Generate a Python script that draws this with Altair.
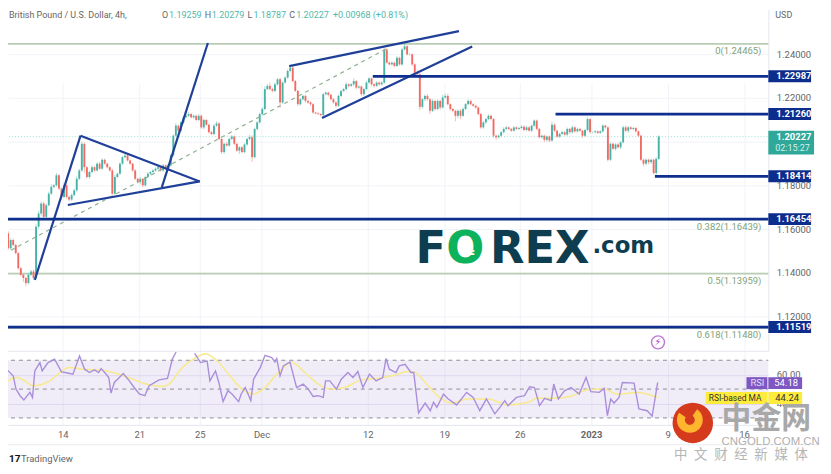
import altair as alt
import pandas as pd

first_open = 1.1490
closes = [
 1.1444,1.1581,1.1512,1.1550,1.1527,1.1490,1.1421,1.1391,1.1376,1.1353,
 1.1391,1.1406,1.1376,1.1611,1.1671,1.1717,1.1656,1.1709,1.1762,1.1793,
 1.1800,1.1846,1.1785,1.1747,1.1800,1.1747,1.1735,1.1755,1.1777,1.1830,
 1.1868,1.1990,1.1883,1.1838,1.1861,1.1883,1.1868,1.1899,1.1876,1.1917,
 1.1899,1.1883,1.1868,1.1762,1.1838,1.1853,1.1899,1.1929,1.1937,1.1914,
 1.1899,1.1868,1.1830,1.1815,1.1830,1.1800,1.1838,1.1853,1.1861,1.1868,
 1.1876,1.1883,1.1868,1.1891,1.1876,1.1891,1.1937,1.2027,1.2073,1.2050,
 1.2088,1.2111,1.2118,1.2126,1.2111,1.2118,1.2099,1.2118,1.2065,1.2099,
 1.2077,1.2043,1.2035,1.2073,1.2083,1.2012,1.1952,1.1990,1.1982,1.2012,
 1.2023,1.1990,1.1959,1.1974,1.1952,1.1987,1.2012,1.2020,1.1929,1.2058,
 1.2088,1.2126,1.2149,1.2240,1.2255,1.2240,1.2232,1.2262,1.2285,1.2179,
 1.2270,1.2293,1.2323,1.2338,1.2277,1.2232,1.2171,1.2194,1.2209,1.2186,
 1.2179,1.2171,1.2133,1.2129,1.2126,1.2121,1.2217,1.2224,1.2214,1.2194,
 1.2179,1.2164,1.2209,1.2232,1.2240,1.2262,1.2255,1.2262,1.2277,1.2247,
 1.2252,1.2217,1.2240,1.2270,1.2289,1.2262,1.2255,1.2270,1.2262,1.2270,
 1.2421,1.2361,1.2353,1.2361,1.2346,1.2383,1.2353,1.2421,1.2436,1.2399,
 1.2399,1.2353,1.2315,1.2308,1.2159,1.2194,1.2209,1.2194,1.2141,1.2186,
 1.2149,1.2186,1.2156,1.2202,1.2209,1.2171,1.2149,1.2141,1.2118,1.2141,
 1.2118,1.2149,1.2171,1.2186,1.2171,1.2164,1.2156,1.2126,1.2065,1.2088,
 1.2103,1.2118,1.2103,1.2027,1.2020,1.2027,1.2043,1.2058,1.2065,1.2058,
 1.2050,1.2065,1.2058,1.2062,1.2068,1.2053,1.2065,1.2050,1.2073,1.2096,
 1.2058,1.2020,1.2027,1.2008,1.2023,1.2005,1.2077,1.2050,1.2023,1.2035,
 1.2043,1.2032,1.2058,1.2043,1.2065,1.2047,1.2058,1.2050,1.2027,1.2053,
 1.2103,1.2043,1.2043,1.2047,1.2040,1.2047,1.2073,1.2065,1.1917,1.1990,
 1.1967,1.1987,1.1974,1.1997,1.2065,1.2050,1.2065,1.2058,1.2062,1.2047,
 1.2027,1.1917,1.1899,1.1917,1.1906,1.1917,1.1856,1.1921,1.2023,
]
upper_wick_pips = [
 10,12,10,8,8,6,6,5,5,5, 8,8,8,10,12,10,8,8,8,12, 6,10,6,5,10,5,5,8,8,10,
 8,10,6,4,6,8,6,6,8,6, 5,4,4,8,10,6,6,6,8,5, 4,4,6,4,8,4,6,8,5,6,
 6,6,5,6,5,6,6,6,12,6, 5,6,10,10,6,6,5,8,6,6, 5,5,6,6,10,8,5,6,8,6,
 8,6,5,5,5,6,6,10,8,6, 6,6,8,12,8,15,6,8,6,6, 5,6,8,10,6,5,5,5,6,6,
 5,5,5,4,4,4,6,6,5,5, 5,5,6,6,5,10,5,6,12,5, 6,5,6,8,6,5,5,6,5,6,
 6,6,5,5,5,8,6,8,12,5, 6,5,5,12,5,5,6,8,5,8, 5,8,6,12,10,10,4,5,5,6,
 8,8,6,8,6,5,5,5,5,5, 5,8,5,5,5,5,5,8,6,5, 5,6,5,5,8,6,8,6,5,6,
 5,4,4,5,5,5,15,8,4,6, 6,5,6,5,8,5,6,6,4,6, 8,4,4,5,4,5,6,5,5,5,
 6,6,6,5,8,8,6,5,6,5, 5,5,5,6,5,5,5,8,6,
]
lower_wick_pips = [
 15,8,8,6,6,6,8,6,18,15, 5,6,8,6,8,10,8,6,6,6, 6,6,6,15,6,8,8,6,6,6,
 6,6,25,6,8,6,6,5,6,5, 5,6,6,6,5,6,5,6,5,5, 5,6,5,6,10,8,6,6,6,5,
 5,6,5,6,5,6,5,6,6,5, 6,6,5,6,5,6,6,6,6,8, 5,5,6,6,6,6,8,8,5,6,
 6,6,6,15,6,6,6,6,22,6, 6,6,6,6,5,6,6,6,6,25, 6,5,6,6,6,5,8,6,6,8,
 5,8,6,5,5,6,6,6,8,6, 6,8,6,5,6,6,8,5,8,8, 6,8,8,6,5,6,8,5,6,6,
 6,5,5,5,6,5,6,6,5,5, 5,6,5,6,15,8,8,8,15,6, 8,6,10,6,5,6,8,8,25,10,
 15,6,5,5,5,5,6,6,6,6, 8,5,6,10,12,6,5,6,6,6, 6,5,6,5,5,6,6,5,6,6,
 6,6,6,10,8,8,6,6,6,6, 5,6,6,6,6,6,5,6,10,5, 6,6,5,5,5,5,6,6,8,6,
 6,8,5,8,6,8,10,5,6,6, 6,6,12,8,10,8,5,8,6,
]

rsi_bar = [0,1.4,4,5.1,6.7,8.2,10.6,11.6,12.5,14.5,15.4,17.7,20.3,23,24.5,27.5,30.1,32.1,34,36,37.6,38.6,40.6,41.6,42.5,43.8,47.3,49.7,51.6,53.6,55.8,57.5,61.4,64.7,66.6,68.1,
 72,
 75.4,77.7,80.3,81.4,83.6,84.9,86.6,88.5,90.1,92.7,93.7,95.3,97.5,98.6,101.2,103.1,105.7,107,107.7,109,110.3,112.9,115.5,118.1,120.1,122,124,126,126.9,128.6,131.2,133.1,135.7,137.7,139.6,141.6,144.2,146.8,149.4,150.7,152,154.6,155.9,158.2,160.5,
 161.6,163.5,166.1,168.1,169.4,170.7,173.3,175.2,178.5,182.4,185,187.6,190.2,193.5,195.5,197.4,198.7,202,205.2,207.2,209.1,211.1,213.1,215.7,216.7,218.5,220.9,223.5,226.7,229.4,231.3,234.6,236.5,237.8,239.1,240.4,242.4,243.7,248.3,250.2,253.5,255.4,257.6]
rsi_val = [54.6,63.8,59.2,50,45.4,42.4,47.7,44.2,62.6,68.4,62.6,68.4,70.7,61.9,61.5,60.3,73,63.8,61.5,63.3,61.5,64.2,60.3,58,47.2,54.6,60.8,55.7,51.1,46.6,45.4,52.3,56.4,57.4,70.7,75.7,
 None,
 74.8,68.4,69.5,55.7,62.6,54.6,41.3,48.9,46.6,41.3,46.6,51.1,42,56.9,64.9,73.4,71.8,68.8,71.2,59.2,66.1,68.8,51.1,53.4,50,44.9,45.4,44.2,55.7,55.7,50,56.9,61.5,58,62.2,51.1,60.3,55.7,58,71.2,63.8,61.5,66.1,67.2,61.5,
 61.5,33.4,40.3,35,40.8,37.3,46.5,43.1,39,47.7,44.2,35,43.1,32.8,37.3,42,38.5,44.2,45.4,51.6,51.1,38.5,43.6,42,53.5,43.1,48.8,51.1,46.5,58,48.2,47.7,50.5,31.6,43.1,40.3,44.2,54.6,54.1,36.2,35,31.2,54.6]
ma_bar = [0,5.4,8.6,11.9,18.4,22.3,26.2,31.4,40.6,45.8,51,56.2,62.7,65.3,70.5,75.8,79.7,83.6,88.8,94,98.6,103.1,108.3,113.6,118.8,124,129.2,134.4,141,147.5,154,159.2,162.2,166.1,172.6,176.5,183,190.9,198.7,206.5,210.4,217,223.5,230,236.5,241.7,249.6,257.4]
ma_val = [53.5,58,55.7,52.3,55.7,61.5,64.9,63.8,62.6,60.3,56.9,53.5,51.8,53.5,64.9,71.8,74.6,70.7,60.3,50,46.6,51.1,61.5,68.4,61.5,53.5,50,51.1,56.4,57.4,59.6,62.2,61.5,54.6,43.1,40.3,43.1,43.1,39,40.8,43.8,43.6,45,49.5,50,46.5,47.7,44.2]

tick_bars = [23.5,53.6,77.4,101.7,143.5,173.6,203.3,231.4,261.5,291.6]
tick_labels = ["14","21","25","Dec","12","19","26","2023","9","16"]
price_ticks = [1.12,1.14,1.16,1.18,1.20,1.22,1.24]
level_prices = [1.22987,1.21260,1.18414,1.16454,1.11519]
level_starts = [145.5,217.4,256.5,0,0]
fib_prices = [1.24465,1.16439,1.13959,1.11480]
fib_labels = ["0(1.24465)","0.382(1.16439)","0.5(1.13959)","0.618(1.11480)"]
seg_b1 = [12.5,30.5,77.4,62.5,112.6,125.5]
seg_p1 = [1.1368,1.2027,1.1818,1.1792,1.2345,1.2108]
seg_b2 = [30.5,77.4,25.5,80.6,179.4,184.6]
seg_p2 = [1.2027,1.1818,1.1710,1.2451,1.2505,1.2435]
last_price = 1.20227
dashed_b = [0.4,150.6]
dashed_p = [1.1486,1.2423]

X_DOM = [1.955, 301.13]
xs = alt.Scale(domain=X_DOM, nice=False, zero=False)
ps = alt.Scale(domain=[1.104091,1.260455], range=[344,0], nice=False, zero=False)
rs = alt.Scale(domain=[30,70], range=[411,353], nice=False, zero=False)
GRID = "#f1f3f8"
FONT = "Roboto"

opens = [first_open] + closes[:-1]
candles = pd.DataFrame({"bar":range(len(closes)),"o":opens,"c":closes})
candles["hi"] = [max(o,c)+u/10000 for o,c,u in zip(opens,closes,upper_wick_pips)]
candles["lo"] = [min(o,c)-l/10000 for o,c,l in zip(opens,closes,lower_wick_pips)]
candles["dir"] = ["up" if c>=o else "down" for o,c in zip(opens,closes)]
dircol = alt.Scale(domain=["up","down"],range=["#3fb0a0","#f0655f"])

label_expr = " : ".join(f"datum.value=={b} ? '{l}'" for b,l in zip(tick_bars,tick_labels)) + " : ''"
x_axis = alt.Axis(values=tick_bars,labelExpr=label_expr,grid=True,gridColor=GRID,domain=True,domainColor="#e4e6ee",
                  ticks=False,labelColor="#666666",labelFontSize=9.5,labelPadding=5,labelFont=FONT,title=None,
                  labelFontWeight={"condition":{"test":"datum.value==231.4","value":"bold"},"value":"normal"})
y_axis = alt.Axis(values=price_ticks,format=".5f",orient="right",grid=True,gridColor=GRID,domain=True,domainColor="#e4e6ee",
                  ticks=False,labelColor="#666666",labelFontSize=9.5,labelPadding=8,labelFont=FONT,title=None,
                  labelExpr="datum.value==1.2 ? '' : datum.label")
r_axis = alt.Axis(values=[40,60],format=".2f",orient="right",grid=True,gridColor="#ebe7f5",domain=False,
                  ticks=False,labelColor="#666666",labelFontSize=9.5,labelPadding=8,labelFont=FONT,title=None)
X = lambda f: alt.X(f,scale=xs,axis=x_axis)
Y = lambda f: alt.Y(f,scale=ps,axis=y_axis)
RY = lambda f: alt.Y(f,scale=rs,axis=r_axis)

def txt(s,px,py,size=9.5,color="#666666",align="left",weight="normal",font=FONT,base="middle"):
    return alt.Chart(pd.DataFrame({"s":[s]})).mark_text(align=align,baseline=base,fontSize=size,color=color,
        fontWeight=weight,font=font).encode(text="s:N",x=alt.value(px-8),y=alt.value(py-8))

# ------ price pane
fib = alt.Chart(pd.DataFrame({"p":fib_prices,"a":[0]*4,"b":[X_DOM[1]]*4})).mark_rule(color="#b8cdb4",strokeWidth=1.8).encode(
    x=X("a:Q"),x2="b:Q",y=Y("p:Q"))
lastline = alt.Chart(pd.DataFrame({"p":[last_price],"a":[0],"b":[X_DOM[1]]})).mark_rule(color="#9adfd6",strokeWidth=1,strokeDash=[1,2]).encode(
    x=X("a:Q"),x2="b:Q",y=Y("p:Q"))
wicks = alt.Chart(candles).mark_rule(strokeWidth=1,opacity=0.45).encode(
    x=X("bar:Q"),y=Y("lo:Q"),y2="hi:Q",color=alt.Color("dir:N",scale=dircol,legend=None))
bodies = alt.Chart(candles).mark_rule(strokeWidth=1.9,opacity=0.95).encode(
    x=X("bar:Q"),y=Y("o:Q"),y2="c:Q",color=alt.Color("dir:N",scale=dircol,legend=None))
dash = alt.Chart(pd.DataFrame({"a":[dashed_b[0]],"b":[dashed_b[1]],"p":[dashed_p[0]],"q":[dashed_p[1]]})).mark_rule(
    color="#8fb08f",strokeWidth=1.2,strokeDash=[4,4]).encode(x=X("a:Q"),x2="b:Q",y=Y("p:Q"),y2="q:Q")
segs = alt.Chart(pd.DataFrame({"a":seg_b1,"b":seg_b2,"p":seg_p1,"q":seg_p2})).mark_rule(color="#1f3f98",strokeWidth=2.2).encode(
    x=X("a:Q"),x2="b:Q",y=Y("p:Q"),y2="q:Q")
levels = alt.Chart(pd.DataFrame({"p":level_prices,"a":level_starts,"b":[X_DOM[1]]*5})).mark_rule(color="#0f2f8f",strokeWidth=2.8).encode(
    x=X("a:Q"),x2="b:Q",y=Y("p:Q"))
tags_df = pd.DataFrame({"p":level_prices,"t":[f"{v:.5f}" for v in level_prices]})
tags = alt.Chart(tags_df).mark_rect(color="#0d2d8c",height=12).encode(x=alt.value(765),x2=alt.value(808),y=Y("p:Q"))
tagt = alt.Chart(tags_df).mark_text(color="white",fontSize=9.5,fontWeight="bold",font=FONT,align="left").encode(
    x=alt.value(773),y=Y("p:Q"),text="t:N")
lasttag = alt.Chart(pd.DataFrame({"p":[last_price]})).mark_rect(color="#2fa899",height=24,yOffset=6).encode(
    x=alt.value(765),x2=alt.value(811),y=Y("p:Q"))
fibt = alt.Chart(pd.DataFrame({"p":fib_prices,"t":fib_labels})).mark_text(color="#7da27c",fontSize=9.5,font=FONT,align="right",dy=7.5).encode(
    x=alt.value(758),y=Y("p:Q"),text="t:N")
price_layer = alt.layer(fib,lastline,wicks,bodies,dash,segs,levels,lasttag,tags,tagt,fibt)

# ------ RSI pane
rsi_df = pd.DataFrame({"bar":rsi_bar,"v":rsi_val})
ma_df = pd.DataFrame({"bar":ma_bar,"v":ma_val})
band = alt.Chart(pd.DataFrame({"a":[0],"b":[X_DOM[1]],"lo":[30],"hi":[70]})).mark_rect(color="#7e57c2",opacity=0.11).encode(
    x=X("a:Q"),x2="b:Q",y=RY("lo:Q"),y2="hi:Q")
dashes = alt.Chart(pd.DataFrame({"v":[30,50,70],"a":[0]*3,"b":[X_DOM[1]]*3})).mark_rule(color="#8d8d94",strokeWidth=1,strokeDash=[4,4]).encode(
    x=X("a:Q"),x2="b:Q",y=RY("v:Q"))
ma_line = alt.Chart(ma_df).mark_line(color="#f8e98a",strokeWidth=1.5,interpolate="monotone").encode(x=X("bar:Q"),y=RY("v:Q"))
rsi_line = alt.Chart(rsi_df).mark_line(color="#a98fdb",strokeWidth=1.4).encode(x=X("bar:Q"),y=RY("v:Q"))
rsi_layer = alt.layer(band,dashes,ma_line,rsi_line)

def box(x1,x2,y1,y2,color):
    return alt.Chart(pd.DataFrame({"a":[0]})).mark_rect(color=color).encode(
        x=alt.value(x1-8),x2=alt.value(x2-8),y=alt.value(y1-8),y2=alt.value(y2-8))
def hline(x1,x2,y,color):
    return alt.Chart(pd.DataFrame({"a":[0]})).mark_rule(color=color,strokeWidth=1).encode(
        x=alt.value(x1-8),x2=alt.value(x2-8),y=alt.value(y-8))

LOGO = "DejaVu Sans"
extras = [
    hline(8,773,352,"#e6e8ef"), hline(8,822,446,"#e9ebf1"),
    txt("British Pound / U.S. Dollar, 4h,",9,14,9),
    txt("O",163,14,9), txt("1.19259",170,14,9,"#4fb8a8"),
    txt("H",206,14,9), txt("1.20279",213,14,9,"#4fb8a8"),
    txt("L",249,14,9), txt("1.18787",255,14,9,"#4fb8a8"),
    txt("C",291,14,9), txt("1.20227",298,14,9,"#4fb8a8"),
    txt("+0.00968 (+0.81%)",335,14,9,"#4fb8a8"),
    txt("USD",780,14,9),
    txt("1.20227",781,136,9.5,"white","left","bold"),
    txt("02:15:27",780,147,9,"#d5f0ec"),
    # logo
    txt("F",418,263,45,"#0e3d4f","left","bold",LOGO,"alphabetic"),
    txt("O",449,263,45,"#0db25c","left","bold",LOGO,"alphabetic"),
    txt("=",472,252,16,"#ffffff","center","bold",LOGO),
    txt("REX",493,263,45,"#0e3d4f","left","bold",LOGO,"alphabetic"),
    txt(".com",596,253,23,"#0e3d4f","left","bold",LOGO,"alphabetic"),
    # RSI tags
    box(751,772,378,390,"#7e57c2"), box(773,807,378,390,"#7e57c2"),
    txt("RSI",755,384,9.5,"#e4dcf5"), txt("54.18",779,384,9.5,"white"),
    box(710,772,393,405,"#ffeb3b"), box(773,807,393,405,"#ffeb3b"),
    txt("RSI-based MA",713,399,8.5,"#333333"), txt("44.24",780,399,9.5,"#333333"),
    # bolt
    alt.Chart(pd.DataFrame({"a":[0]})).mark_point(shape="circle",filled=False,color="#a63fc8",strokeWidth=1.4,size=170).encode(
        x=alt.value(654),y=alt.value(335)),
    txt("⚡",662,343,10,"#a63fc8","center","normal","DejaVu Sans"),
    # trading view
    txt("17",9,460,10,"#111111","left","bold"),
    txt("TradingView",21,460,9.5,"#666666"),
    # watermark
    alt.Chart(pd.DataFrame({"a":[0]})).mark_circle(color="#d63a1c",size=1660,opacity=1).encode(
        x=alt.value(689),y=alt.value(416)),
    alt.Chart(pd.DataFrame({"a":[0]})).mark_arc(color="#ffb52e",innerRadius=5,outerRadius=13,theta=0.6,theta2=5.3).encode(
        x=alt.value(686),y=alt.value(413)),
    txt("中金网",726,420,30,"#a8a8a8","left","bold","Noto Sans CJK SC"),
    txt("CNGOLD.COM.CN",726,443,11.5,"#b0b0b0","left","normal","Liberation Sans"),
    txt("中\u2002文\u2002财\u2002经\u2002新\u2002媒\u2002体",678,456,13.5,"#b5b5b5","left","normal","Noto Sans CJK SC"),
]

chart = alt.layer(price_layer,rsi_layer,*extras).resolve_scale(y="independent").properties(
    width=765,height=418,
    autosize=alt.AutoSizeParams(type="none"),
    padding={"left":0,"top":0,"right":55,"bottom":46},
    background="white",
).configure_view(stroke=None)
chart.save("out.html", embed_options={"renderer": "svg", "actions": False})
